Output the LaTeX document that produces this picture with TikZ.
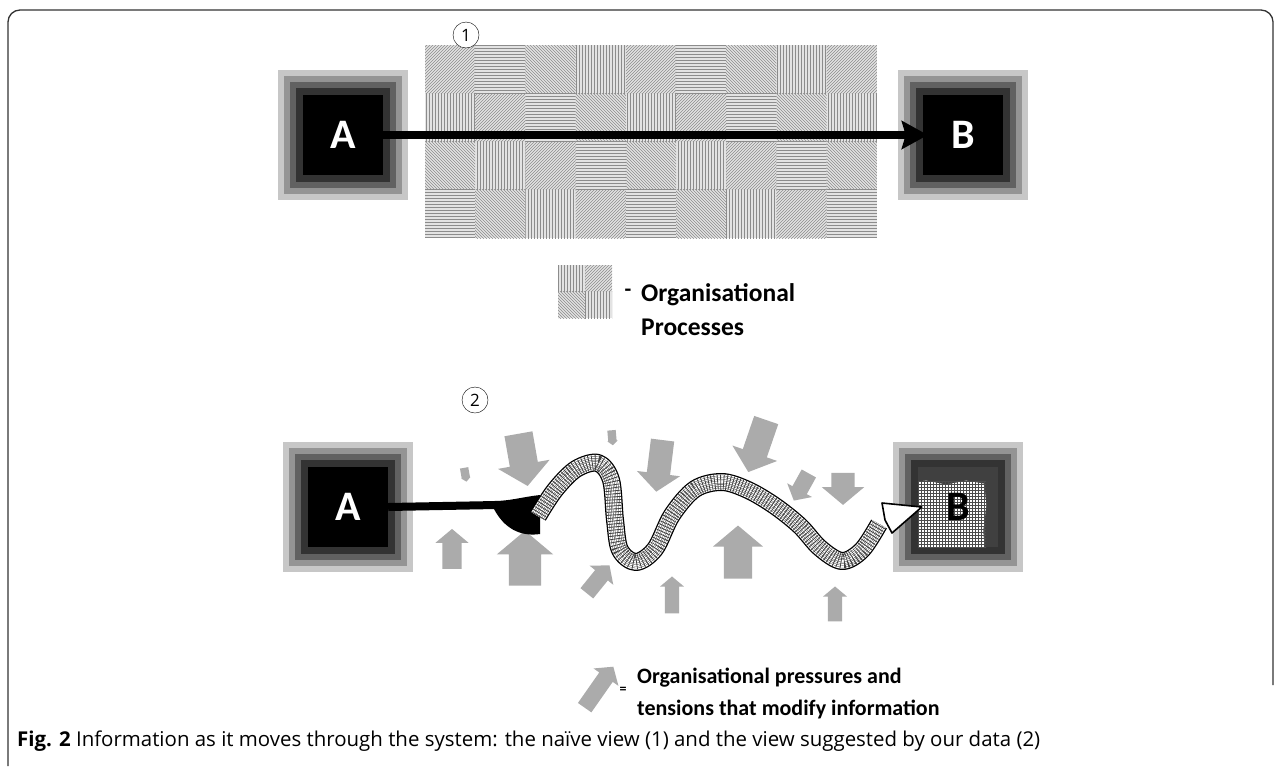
\documentclass[tikz,border=0pt]{standalone}
\usepackage{fontspec}
\usepackage{graphicx}
\setmainfont{Open Sans}
\newfontfamily\calfont{Carlito}
\usetikzlibrary{shapes.arrows,patterns,arrows.meta,positioning}

% glow rings round a system box
\newcommand\glow[2]{%
 \foreach \s/\c in {65/22,59/42,53/62,47/80}{\fill[black!\c] (#1-\s,#2-\s) rectangle (#1+\s,#2+\s);}}
% one tile of the process texture
\newcommand\proctile[5]{%
 \pgfmathtruncatemacro\k{mod(#5,4)}%
 \ifcase\k \def\tilepat{north east lines}\or \def\tilepat{vertical lines}\or
 \def\tilepat{north west lines}\or \def\tilepat{horizontal lines}\fi
 \fill[pattern=\tilepat,pattern color=black!45] (#1,#2) rectangle (#3,#4);}
% the winding information path
\newcommand\riverline[1]{\draw[#1,line join=round]
 plot[smooth,tension=0.55] coordinates {(538,516) (555,490) (576,469) (598,463) (611,480)
 (615,520) (620,550) (636,562) (655,549) (672,515) (695,489) (722,482) (748,490) (775,506)
 (800,526) (820,548) (842,561) (862,550) (879,524)};}

\begin{document}
\begin{tikzpicture}[x=1pt,y=-1pt,
 corebox/.style={fill=black,text=white,minimum size=80pt,inner sep=0pt,
  font=\calfont\bfseries\fontsize{42}{42}\selectfont},
 num/.style={draw,circle,fill=white,minimum size=26pt,inner sep=0pt,font=\fontsize{17}{17}\selectfont},
 pressure/.style={single arrow,fill=gray!66,inner xsep=0pt,single arrow tip angle=100},
 legend/.style={font=\calfont\bfseries\fontsize{22}{32}\selectfont,align=left,anchor=west,inner sep=0pt}]
\useasboundingbox (0,0) rectangle (1281,766);
\draw[line width=1.3pt,black!80,rounded corners=12pt] (8,766) -- (8,10) -- (1273,10) -- (1273,685);

% (1) naive view
\fill[gray!22] (425,45) rectangle (877,238);
\foreach \i in {0,...,8}{\foreach \j in {0,...,3}{
 \proctile{425+\i*50.2}{45+\j*48.25}{425+\i*50.2+50.2}{45+\j*48.25+48.25}{\i*3+\j*5}}}
\node[num] (n1) at (466,35) {1};
\glow{343}{135}
\node[corebox] (topA) at (343,135) {A};
\glow{963}{135}
\node[corebox] (topB) at (963,135) {B};
\draw[line width=8pt,-{Stealth[length=26pt,width=28pt,inset=4pt]}] (topA.east) -- ([xshift=5pt]topB.west);

% legend for processes
\fill[gray!22] (558,265) rectangle (612,318);
\foreach \i in {0,1}{\foreach \j in {0,1}{
 \proctile{558+\i*27}{265+\j*26.5}{585+\i*27}{291.5+\j*26.5}{\i*3+\j*5+1}}}
\node[font=\calfont\bfseries\fontsize{22}{22}\selectfont] (procdash) at (628,293) {-};
\node[legend,font=\calfont\bfseries\fontsize{25.5}{34}\selectfont] (proclbl) at (641,310) {Organisational\\Processes};

% (2) suggested view
\node[num] (n2) at (475,400) {2};
\foreach \x/\y/\a/\l/\w/\e [count=\k] in {465/473/-80/14/9/0.5, 522/454/-80/53/52/12,
 612/436/-85/15/10/1, 660/461/-97/52/43/10, 759/441/-109/55/47/11, 803/484/-119/31/28/6,
 843/484/-90/32/42/9.5, 452/553/90/40/33/7, 525/565/90/55/56/12, 596/582/51/36/30/7,
 672/598/90/37/24/5, 738/558/90/53/50/11, 835/607/90/35/24/5}{
 \pgfmathsetmacro\h{\w/2-\e}
 \node[pressure,minimum height=\l pt,inner ysep=\h pt,single arrow head extend=\e pt,rotate=\a] (p\k) at (\x,\y) {};}

\glow{348}{507}
\node[corebox] (botA) at (348,507) {A};
\glow{958}{507}
\node[corebox,fill=black!75,text=black,path picture={
 \fill[white,shift={(path picture bounding box.center)}] (-37,-38) -- (-20,-40) -- (0,-36) -- (20,-40)
  -- (38,-37) -- (40,-15) -- (37,10) -- (39,38) -- (15,40) -- (-10,37) -- (-36,40) -- (-38,15)
  -- (-41,0) -- (-36,-20) -- cycle;
 \fill[pattern=grid,pattern color=black!70,shift={(path picture bounding box.center)}]
  (-38,-39) rectangle (40,40);}] (botB) at (958,507) {B};

\coordinate (flare) at (496,505);
\draw[line width=8pt] (botA.east) -- (flare);
\fill (494,501) .. controls (510,501) and (522,497) .. (540,495) -- (540,534)
 .. controls (520,537) and (504,528) .. (494,509) -- cycle;
\riverline{line width=18pt,black}
\riverline{line width=15.4pt,white}
\foreach \w in {12.5,9,5.5,2.5}{
 \pgfmathsetmacro\v{\w-0.8}
 \riverline{line width=\w pt,black!75}
 \riverline{line width=\v pt,white}}
\riverline{line width=15pt,black!75,dash pattern=on 0.8pt off 2.2pt}
\coordinate (tipB) at ([xshift=4pt]botB.west);
\filldraw[fill=white,line width=1.6pt,line join=round] (882,503) -- (tipB) -- (892,533) -- (885,520) -- cycle;

% legend for pressures
\node[pressure,minimum height=50pt,inner ysep=8pt,single arrow head extend=7pt,rotate=55] (keyarrow) at (597,690) {};
\node[font=\calfont\bfseries\fontsize{14}{14}\selectfont] (keyeq) at (623,690) {=};
\node[legend] (keylbl) at (637,693) {Organisational pressures and\\tensions that modify information};

\node[anchor=west,inner sep=0pt,font=\fontsize{17}{17}\selectfont] (caption) at (17,741)
 {\resizebox{1023pt}{!}{\textbf{Fig. 2} Information as it moves through the system: the naïve view (1) and the view suggested by our data (2)}};
\end{tikzpicture}
\end{document}
